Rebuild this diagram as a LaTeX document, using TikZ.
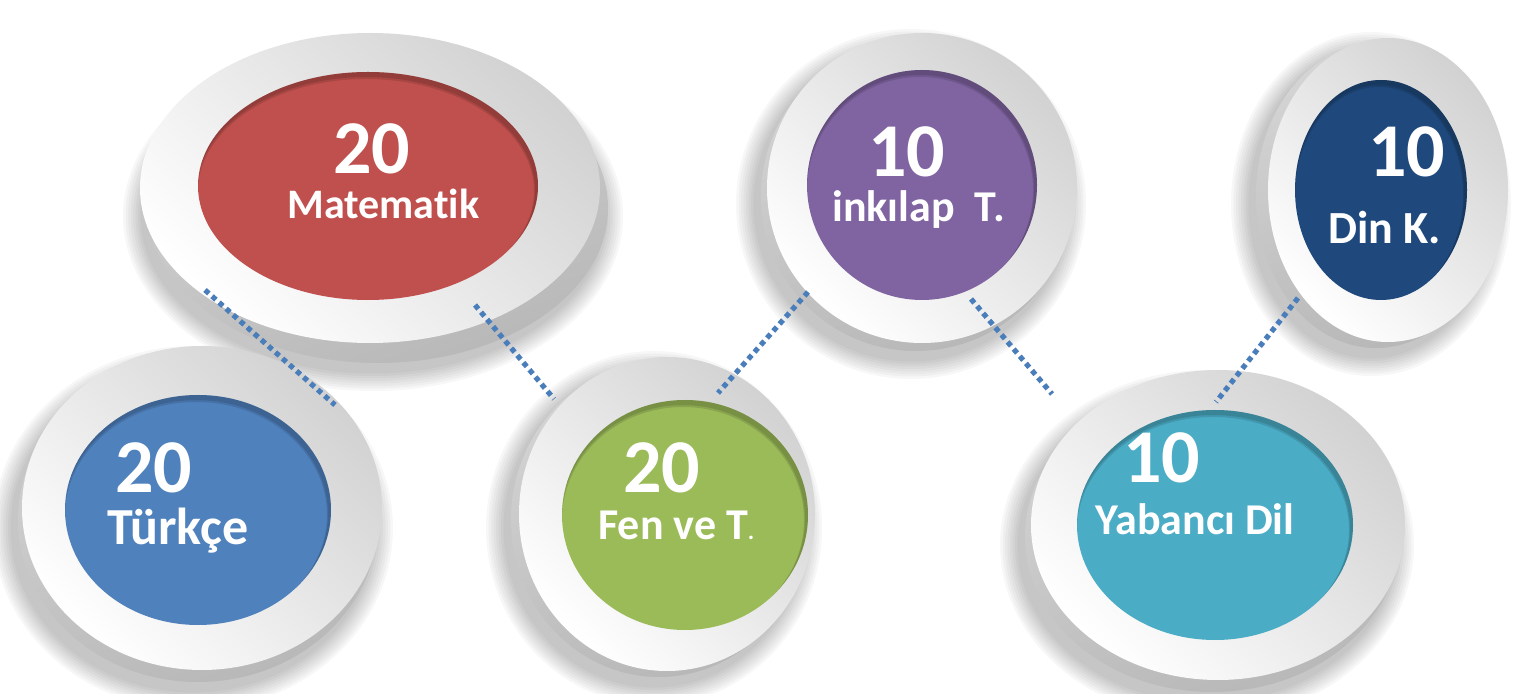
\documentclass[tikz,border=0pt]{standalone}
\usepackage{fontspec}
\setmainfont{Carlito}[Ligatures=CommonOff]
\usetikzlibrary{shapes.geometric}
\definecolor{cRed}{HTML}{C0504D}
\definecolor{cBlue}{HTML}{4F81BD}
\definecolor{cGreen}{HTML}{9BBB59}
\definecolor{cPurple}{HTML}{8064A2}
\definecolor{cTeal}{HTML}{4BACC6}
\definecolor{cNavy}{HTML}{1F497D}
\definecolor{dotblue}{HTML}{4A7EBB}
\definecolor{faceGray}{HTML}{D2D2D2}
\definecolor{sideGray}{HTML}{B8B8B8}
% #1 cx, #2 cy, #3 rx, #4 ry, #5 side dx, #6 side dy
\newcommand{\mydisc}[6]{%
  \foreach \k in {1,...,8}{%
    \fill[black,opacity=0.03] ({#1+#5-5},{#2+#6+8}) ellipse ({#3+\k*2.5} and {#4+\k*2.5});
  }
  \shade[top color=sideGray!60, bottom color=sideGray, shading angle=20] ({#1+#5},{#2+#6}) ellipse (#3 and #4);
  \shade[top color=faceGray, middle color=white!96!black, bottom color=white, shading angle=-45] (#1,#2) ellipse (#3 and #4);
}
% inner shadow of coloured disc: #1 cx, #2 cy, #3 rx, #4 ry
\newcommand{\myinner}[4]{%
  \begin{scope}
    \clip (#1,#2) ellipse (#3 and #4);
    \draw[black,opacity=0.12,line width=5pt] ({#1-2},{#2+5}) ellipse ({#3+3} and {#4+3});
    \draw[black,opacity=0.12,line width=3pt] ({#1-2},{#2+4}) ellipse ({#3+2} and {#4+2});
  \end{scope}
}
\tikzset{
  inner/.style={ellipse, draw=none, inner sep=0pt, outer sep=0pt},
  dots/.style={draw=dotblue, line width=2.6pt, dash pattern=on 2.6pt off 2.1pt},
  num/.style={text=white, anchor=base west, inner sep=0pt, font=\fontsize{38}{40}\selectfont\bfseries},
  lbl/.style={text=white, anchor=base west, inner sep=0pt, font=\fontsize{21}{23}\selectfont\bfseries},
}
\begin{document}
\begin{tikzpicture}[x=0.5pt,y=-0.5pt]
\useasboundingbox (0,0) rectangle (1515,694);

% Matematik
\mydisc{370}{188}{230}{155}{8}{20}
\node[inner, fill=cRed, minimum width=170pt, minimum height=114pt] (mat) at (368,186) {};
\myinner{368}{186}{170}{114}
% Turkce
\mydisc{202}{508}{180}{162}{-4}{12}
\node[inner, fill=cBlue, minimum width=133pt, minimum height=115pt] (tur) at (198,510) {};
\myinner{198}{510}{133}{115}
% Inkilap
\mydisc{922}{188}{155}{155}{-6}{8}
\node[inner, fill=cPurple, minimum width=115pt, minimum height=115pt] (ink) at (922,185) {};
\myinner{922}{185}{115}{115}
% Fen
\mydisc{667}{514}{148}{157}{-8}{6}
\node[inner, fill=cGreen, minimum width=123pt, minimum height=115pt] (fen) at (685,515) {};
\myinner{685}{515}{123}{115}
% Din
\mydisc{1388}{190}{120}{152}{-12}{6}
\node[inner, fill=cNavy, minimum width=86pt, minimum height=110pt] (din) at (1381,190) {};
\myinner{1381}{190}{86}{110}
% Yabanci
\mydisc{1218}{525}{187}{155}{-6}{12}
\node[inner, fill=cTeal, minimum width=138pt, minimum height=115pt] (yab) at (1215,525) {};
\myinner{1215}{525}{138}{115}

% connector end points
\coordinate (m1) at (205,290);
\coordinate (t1) at (335,405);
\coordinate (m2) at (475,305);
\coordinate (f1) at (554,399);
\coordinate (i1) at (808,292);
\coordinate (f2) at (718,393);
\coordinate (i2) at (971,299);
\coordinate (y1) at (1052,394);
\coordinate (d1) at (1298,298);
\coordinate (y2) at (1216,402);
\draw[dots] (m1) -- (t1);
\draw[dots] (m2) -- (f1);
\draw[dots] (i1) -- (f2);
\draw[dots] (i2) -- (y1);
\draw[dots] (d1) -- (y2);

% texts
\node[num] (matn) at (333,174) {20};
\node[lbl] (matl) at (287,219) {Matematik};
\node[num] (turn) at (115,493) {20};
\node[lbl, font=\fontsize{26}{28}\selectfont\bfseries] (turl) at (107,545) {Türkçe};
\node[num] (fenn) at (623,493) {20};
\node[lbl, font=\fontsize{22}{24}\selectfont\bfseries] (fenl) at (598,540) {Fen ve T{\fontsize{12}{14}\selectfont.}};
\node[num] (inkn) at (868,177) {10};
\node[lbl, font=\fontsize{22}{24}\selectfont\bfseries] (inkl) at (832,222) {inkılap\ \ T.};
\node[num] (yabn) at (1123,483) {10};
\node[lbl, font=\fontsize{22}{24}\selectfont\bfseries] (yabl) at (1095,535) {Yabancı Dil};
\node[num] (dinn) at (1368,177) {10};
\node[lbl, font=\fontsize{23}{25}\selectfont\bfseries] (dinl) at (1328,244) {Din K.};
\end{tikzpicture}
\end{document}
